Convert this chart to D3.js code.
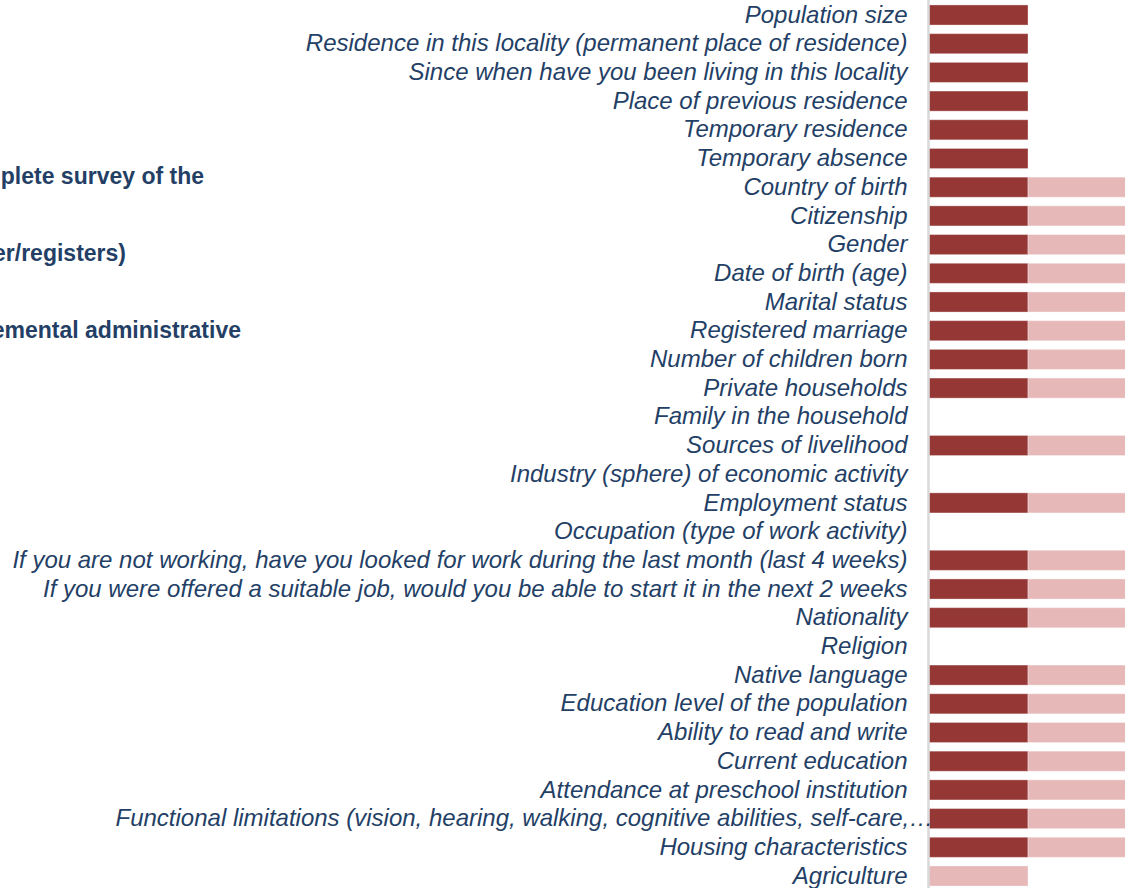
<!DOCTYPE html>
<html><head><meta charset="utf-8">
<script src="https://cdn.jsdelivr.net/npm/d3@7"></script>
<style>
html,body{margin:0;padding:0;background:#fff;overflow:hidden;}
svg{display:block;}
</style></head>
<body>
<svg id="chart" width="1125" height="888"></svg>
<script>
const categories = [
  "Population size",
  "Residence in this locality (permanent place of residence)",
  "Since when have you been living in this locality",
  "Place of previous residence",
  "Temporary residence",
  "Temporary absence",
  "Country of birth",
  "Citizenship",
  "Gender",
  "Date of birth (age)",
  "Marital status",
  "Registered marriage",
  "Number of children born",
  "Private households",
  "Family in the household",
  "Sources of livelihood",
  "Industry (sphere) of economic activity",
  "Employment status",
  "Occupation (type of work activity)",
  "If you are not working, have you looked for work during the last month (last 4 weeks)",
  "If you were offered a suitable job, would you be able to start it in the next 2 weeks",
  "Nationality",
  "Religion",
  "Native language",
  "Education level of the population",
  "Ability to read and write",
  "Current education",
  "Attendance at preschool institution",
  "Functional limitations (vision, hearing, walking, cognitive abilities, self-care, communication)",
  "Housing characteristics",
  "Agriculture"
];
const seriesNames = [
  "Complete survey of the",
  "Population register/registers)",
  "Supplemental administrative"
];
const completeSurvey = [1,1,1,1,1,1,1,1,1,1,1,1,1,1,0,1,0,1,0,1,1,1,0,1,1,1,1,1,1,1,0];
const registers      = [0,0,0,0,0,0,1,1,1,1,1,1,1,1,0,1,0,1,0,1,1,1,0,1,1,1,1,1,1,1,1];
const colors = ["#953735", "#E6B9B8"];

const svg = d3.select("#chart");
const axisX = 929;
const unit = 99;
const x = d3.scaleLinear().domain([0, 2]).range([axisX, axisX + 2 * unit]);
const y = d3.scaleBand().domain(categories).range([0.65, 0.65 + 28.7 * categories.length]).paddingInner(0.3).paddingOuter(0.15);

const rows = categories.map((c, i) => ({cat: c, v: [completeSurvey[i], registers[i]]}));
const stackData = d3.stack().keys([0, 1]).value((d, k) => d.v[k])(rows);

svg.append("g").selectAll("g").data(stackData).join("g")
  .attr("fill", (d, i) => colors[i])
  .selectAll("rect").data(d => d.filter(p => p[1] > p[0]).map(p => ({p, cat: p.data.cat})))
  .join("rect")
  .attr("x", d => x(d.p[0]))
  .attr("y", d => y(d.cat))
  .attr("width", d => x(d.p[1]) - x(d.p[0]))
  .attr("height", y.bandwidth())
  .attr("stroke", "#ffffff").attr("stroke-opacity", 0.35).attr("stroke-width", 1);

// category axis
const pad = 21;
const yAxis = d3.axisLeft(y).tickSize(0).tickPadding(pad);
const gAxis = svg.append("g").attr("transform", `translate(${axisX - 0.5},0)`).call(yAxis);
gAxis.select(".domain").attr("d", "M0,0V888").attr("stroke", "#D9D9D9").attr("stroke-width", 2.5);
gAxis.selectAll(".tick text")
  .attr("font-family", "Liberation Sans, Arial, sans-serif")
  .attr("font-style", "italic")
  .attr("font-size", 24)
  .attr("fill", "#243F66")
  .attr("dy", "0.32em");

// truncate overlong labels with an ellipsis, the way the original does
const maxW = 900;
const truncW = 818;
gAxis.selectAll(".tick text").each(function() {
  const t = d3.select(this);
  let s = t.text();
  if (this.getComputedTextLength() > maxW) {
    t.text(s + "…");
    while (s.length > 0 && this.getComputedTextLength() > truncW) {
      s = s.slice(0, -1);
      t.text(s + "…");
    }
    t.attr("text-anchor", "start").attr("x", -813);
  }
});

// legend (mostly outside the visible area on the left)
const legendY = [184, 261, 338];
const legendRight = [204, 126, 241];
svg.append("g").selectAll("text").data(seriesNames).join("text")
  .attr("x", (d, i) => legendRight[i])
  .attr("y", (d, i) => legendY[i])
  .attr("text-anchor", "end")
  .attr("font-family", "Liberation Sans, Arial, sans-serif")
  .attr("font-weight", "bold")
  .attr("font-size", 23)
  .attr("fill", "#243F66")
  .text(d => d);
</script>
</body></html>
